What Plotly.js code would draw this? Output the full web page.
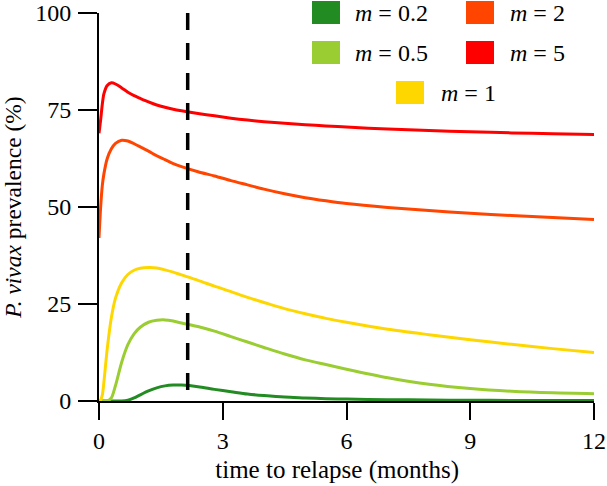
<!DOCTYPE html>
<html>
<head>
<meta charset="utf-8">
<script src="https://cdn.plot.ly/plotly-3.0.1.min.js"></script>
<style>html,body{margin:0;padding:0;background:#fff;}#chart{width:607px;height:486px;}</style>
</head>
<body>
<div id="chart"></div>
<script>
// time to relapse (months)
var months = [0, 0.04, 0.08, 0.12, 0.2, 0.3, 0.4, 0.55, 0.7, 0.85, 1.0, 1.2, 1.4, 1.6, 1.8, 2.0, 2.4, 2.8, 3.2, 3.6, 4.0, 4.5, 5, 5.5, 6, 7, 8, 9, 10, 11, 12];
// P. vivax prevalence (%) per mosquito density m
var prevM02 = [0, 0, 0, 0, 0, 0, 0, 0, 0.2, 0.8, 1.6, 2.6, 3.4, 3.9, 4.1, 4.1, 3.7, 3.0, 2.4, 1.8, 1.4, 1.0, 0.8, 0.6, 0.5, 0.35, 0.25, 0.2, 0.15, 0.1, 0.1];
var prevM05 = [0, 0, 0, 0, 0, 0.8, 4.0, 10.0, 14.5, 17.3, 19.0, 20.3, 20.8, 20.9, 20.6, 20.1, 19.2, 18.0, 16.6, 15.2, 13.8, 12.1, 10.6, 9.4, 8.2, 6.0, 4.3, 3.2, 2.5, 2.1, 1.9];
var prevM1  = [0, 0.3, 1.5, 5, 13.5, 21.5, 26.5, 30.5, 32.6, 33.7, 34.2, 34.4, 34.3, 33.8, 33.2, 32.5, 31.1, 29.6, 28.2, 26.7, 25.4, 23.8, 22.5, 21.3, 20.3, 18.5, 17.1, 15.8, 14.6, 13.5, 12.5];
var prevM2  = [42, 50, 55.5, 58.6, 62.5, 65.0, 66.4, 67.2, 67.0, 66.3, 65.5, 64.4, 63.2, 62.2, 61.2, 60.4, 59.1, 58.0, 56.8, 55.7, 54.6, 53.4, 52.4, 51.6, 50.9, 49.9, 49.1, 48.4, 47.8, 47.3, 46.8];
var prevM5  = [69, 72.5, 76.5, 79.2, 81.3, 82.0, 81.7, 80.7, 79.6, 78.7, 78.0, 77.1, 76.3, 75.7, 75.2, 74.8, 74.1, 73.5, 72.9, 72.4, 72.0, 71.6, 71.2, 70.9, 70.6, 70.1, 69.7, 69.4, 69.1, 68.9, 68.7];
var seriesNames = ['0.2', '0.5', '1', '2', '5'];
var seriesColors = ['#228B22', '#9ACD32', '#FFD700', '#FF4500', '#FF0000'];
var relapseMarker = [2.15];
var xTicks = [0, 3, 6, 9, 12];
var yTicks = [0, 25, 50, 75, 100];

var seriesValues = [prevM02, prevM05, prevM1, prevM2, prevM5];
var FONT = '"Liberation Serif", "Times New Roman", Times, serif';

var traces = seriesValues.map(function (vals, i) {
  return {
    x: months, y: vals, type: 'scatter', mode: 'lines',
    name: '<i>m</i> = ' + seriesNames[i],
    line: {color: seriesColors[i], width: 3, shape: 'spline', smoothing: 0.8},
    showlegend: false, hoverinfo: 'skip'
  };
});

// custom legend: boxes + labels (pixel layout converted to paper coords)
var plotL = 99, plotT = 13, plotW = 495, plotH = 388;
function px(x) { return (x - plotL) / plotW; }
function py(y) { return (plotT + plotH - y) / plotH; }
var legendSlots = [
  {i: 0, bx: 312, by: 1, tx: 353},
  {i: 3, bx: 466, by: 1, tx: 508},
  {i: 1, bx: 312, by: 41, tx: 353},
  {i: 4, bx: 466, by: 41, tx: 508},
  {i: 2, bx: 396, by: 81, tx: 439}
];
var shapes = [];
var annotations = [];
legendSlots.forEach(function (s) {
  shapes.push({type: 'rect', xref: 'paper', yref: 'paper',
    x0: px(s.bx), x1: px(s.bx + 28), y0: py(s.by + 23), y1: py(s.by),
    fillcolor: seriesColors[s.i], line: {width: 0}, layer: 'above'});
  annotations.push({xref: 'paper', yref: 'paper', x: px(s.tx), y: py(s.by + 12),
    xanchor: 'left', yanchor: 'middle', showarrow: false,
    text: '<i>m</i> = ' + seriesNames[s.i],
    font: {family: FONT, size: 24, color: '#000'}});
});
shapes.push({type: 'line', xref: 'x', yref: 'paper',
  x0: relapseMarker[0], x1: relapseMarker[0], y0: 1, y1: 0,
  line: {color: '#000', width: 3.5, dash: '17px,13px'}, layer: 'above'});

var layout = {
  width: 607, height: 486,
  margin: {l: 99, r: 13, t: 13, b: 85},
  paper_bgcolor: '#fff', plot_bgcolor: '#fff',
  font: {family: FONT, size: 24, color: '#000'},
  xaxis: {
    range: [0, 12], tickvals: xTicks, ticktext: xTicks.map(String),
    showgrid: false, zeroline: false, showline: true, linecolor: '#000', linewidth: 2,
    ticks: 'outside', ticklen: 17, tickwidth: 2, tickcolor: '#000',
    tickfont: {family: FONT, size: 24, color: '#000'},
    layer: 'below traces', automargin: false,
    title: {text: 'time to relapse (months)\u00A0\u00A0\u00A0\u200B', font: {family: FONT, size: 25, color: '#000'}, standoff: 8}
  },
  yaxis: {
    range: [0, 100], tickvals: yTicks, ticktext: yTicks.map(String),
    showgrid: false, zeroline: false, showline: true, linecolor: '#000', linewidth: 2,
    ticks: 'outside', ticklen: 19, tickwidth: 2, tickcolor: '#000', ticklabelstandoff: 2,
    tickfont: {family: FONT, size: 24, color: '#000'},
    layer: 'below traces', automargin: false,
    title: {text: '<i>P. vivax</i> prevalence (%)', font: {family: FONT, size: 23.5, color: '#000'}, standoff: 8}
  },
  shapes: shapes,
  annotations: annotations,
  showlegend: false
};

Plotly.newPlot('chart', traces, layout, {staticPlot: true, displayModeBar: false});
</script>
</body>
</html>
